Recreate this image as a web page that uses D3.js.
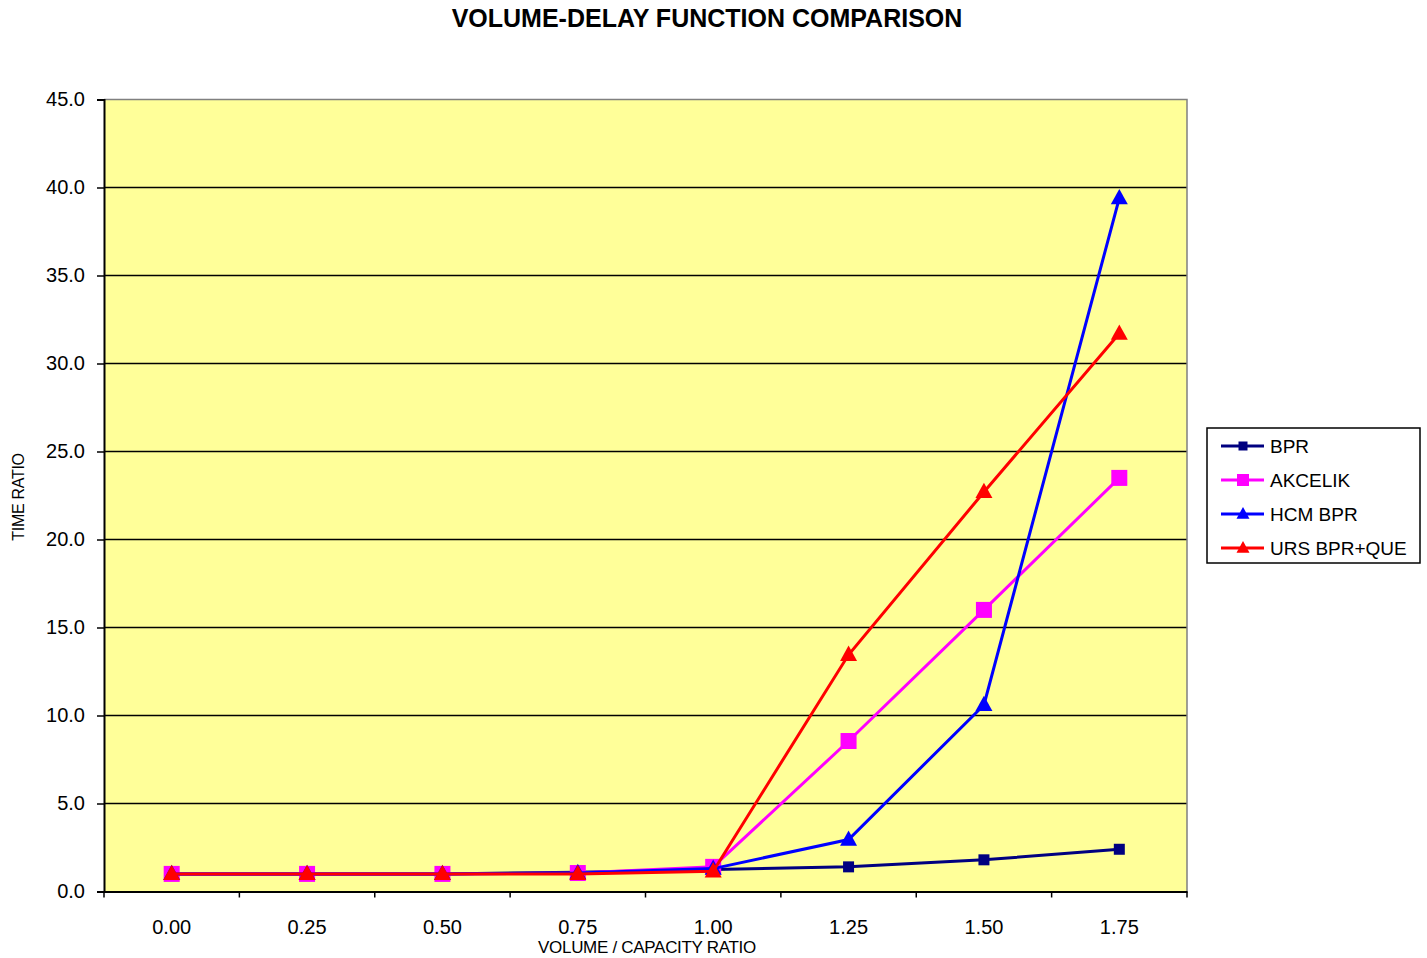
<!DOCTYPE html>
<html>
<head>
<meta charset="utf-8">
<script src="https://cdn.jsdelivr.net/npm/d3@7"></script>
<style>
  html, body { margin: 0; padding: 0; background: #fff; }
  svg { display: block; font-family: "Liberation Sans", Arial, sans-serif; }
</style>
</head>
<body>
<svg id="chart" width="1427" height="958"></svg>
<script>
// Volume/capacity ratio categories
const categories = ["0.00", "0.25", "0.50", "0.75", "1.00", "1.25", "1.50", "1.75"];

// Time ratio per volume-delay function
const bprValues     = [1.0, 1.0, 1.0, 1.1, 1.25, 1.4, 1.8, 2.4];
const akcelikValues = [1.0, 1.0, 1.0, 1.05, 1.4, 8.55, 16.0, 23.5];
const hcmBprValues  = [1.0, 1.0, 1.0, 1.05, 1.3, 2.95, 10.6, 39.4];
const ursValues     = [1.0, 1.0, 1.0, 1.0, 1.15, 13.45, 22.7, 31.7];

const yTicks = [0, 5, 10, 15, 20, 25, 30, 35, 40, 45];

const series = [
  { name: "BPR",          values: bprValues,     color: "#000080", marker: "square",   size: 11 },
  { name: "AKCELIK",      values: akcelikValues, color: "#FF00FF", marker: "square",   size: 16 },
  { name: "HCM BPR",      values: hcmBprValues,  color: "#0000FF", marker: "triangle", size: 17 },
  { name: "URS BPR+QUE",  values: ursValues,     color: "#FF0000", marker: "triangle", size: 17 }
];

const svg = d3.select("#chart");
const plot = { left: 104, top: 99.5, right: 1187, bottom: 891.5 };

const x = d3.scaleBand().domain(categories).range([plot.left, plot.right]);
const y = d3.scaleLinear().domain([0, 45]).range([plot.bottom, plot.top]);

// Plot background
svg.append("rect")
  .attr("x", plot.left).attr("y", plot.top)
  .attr("width", plot.right - plot.left).attr("height", plot.bottom - plot.top)
  .attr("fill", "#FFFF99");

// Horizontal gridlines
svg.append("g")
  .selectAll("line")
  .data(yTicks.filter(d => d > 0 && d < 45))
  .join("line")
  .attr("x1", plot.left).attr("x2", plot.right)
  .attr("y1", d => y(d)).attr("y2", d => y(d))
  .attr("stroke", "#000").attr("stroke-width", 1.5);

// Top and right frame
svg.append("path")
  .attr("d", `M${plot.left},${plot.top}H${plot.right}V${plot.bottom}`)
  .attr("fill", "none").attr("stroke", "#808080").attr("stroke-width", 1.5);

// Y axis
const yAxis = d3.axisLeft(y).tickValues(yTicks).tickFormat(d3.format(".1f")).tickSize(7).tickPadding(12);
const gy = svg.append("g").attr("transform", `translate(${plot.left},0)`).call(yAxis);
gy.select(".domain").attr("stroke", "#000").attr("stroke-width", 2);
gy.selectAll(".tick line").attr("stroke", "#000").attr("stroke-width", 1.5);
gy.selectAll(".tick text").attr("font-size", 20).attr("fill", "#000")
  .attr("font-family", "Liberation Sans, Arial, sans-serif");

// X axis: labels centred in bands, ticks on band boundaries
const xAxis = d3.axisBottom(x).tickSize(0).tickPadding(28);
const gx = svg.append("g").attr("transform", `translate(0,${plot.bottom})`).call(xAxis);
gx.select(".domain").attr("stroke", "#000").attr("stroke-width", 2);
gx.selectAll(".tick text").attr("font-size", 20).attr("fill", "#000")
  .attr("font-family", "Liberation Sans, Arial, sans-serif");
const boundaries = categories.map(c => x(c)).concat([x(categories[categories.length - 1]) + x.bandwidth()]);
svg.append("g")
  .selectAll("line")
  .data(boundaries)
  .join("line")
  .attr("x1", d => d).attr("x2", d => d)
  .attr("y1", plot.bottom).attr("y2", plot.bottom + 6)
  .attr("stroke", "#000").attr("stroke-width", 1.5);

const cx = c => x(c) + x.bandwidth() / 2;

const line = d3.line()
  .x((d, i) => cx(categories[i]))
  .y(d => y(d));

function drawMarker(g, type, size, color, px, py) {
  if (type === "square") {
    g.append("rect")
      .attr("x", px - size / 2).attr("y", py - size / 2)
      .attr("width", size).attr("height", size)
      .attr("fill", color);
  } else {
    const h = size * 0.9;
    g.append("path")
      .attr("d", `M${px},${py - h * 0.6}L${px + size / 2},${py + h * 0.4}L${px - size / 2},${py + h * 0.4}Z`)
      .attr("fill", color);
  }
}

// Series lines and markers
series.forEach(s => {
  const g = svg.append("g");
  g.append("path")
    .attr("d", line(s.values))
    .attr("fill", "none")
    .attr("stroke", s.color)
    .attr("stroke-width", 3);
  s.values.forEach((v, i) => drawMarker(g, s.marker, s.size, s.color, cx(categories[i]), y(v)));
});

// Title
svg.append("text")
  .attr("x", 707).attr("y", 27)
  .attr("text-anchor", "middle")
  .attr("font-size", 25).attr("font-weight", "bold")
  .text("VOLUME-DELAY FUNCTION COMPARISON");

// Axis titles
svg.append("text")
  .attr("x", 647).attr("y", 953)
  .attr("text-anchor", "middle")
  .attr("font-size", 17)
  .attr("letter-spacing", -0.3)
  .text("VOLUME / CAPACITY RATIO");

svg.append("text")
  .attr("transform", "translate(24,497) rotate(-90)")
  .attr("text-anchor", "middle")
  .attr("font-size", 16)
  .attr("letter-spacing", -0.3)
  .text("TIME RATIO");

// Legend
const legend = svg.append("g");
legend.append("rect")
  .attr("x", 1207).attr("y", 428)
  .attr("width", 213).attr("height", 135)
  .attr("fill", "#fff").attr("stroke", "#000").attr("stroke-width", 1.5);

series.forEach((s, i) => {
  const ly = 446 + i * 34;
  legend.append("line")
    .attr("x1", 1221).attr("x2", 1264)
    .attr("y1", ly).attr("y2", ly)
    .attr("stroke", s.color).attr("stroke-width", 3);
  const msize = s.marker === "square" ? (i === 0 ? 9 : 12) : 13;
  drawMarker(legend, s.marker, msize, s.color, 1243, ly);
  legend.append("text")
    .attr("x", 1270).attr("y", ly + 7)
    .attr("font-size", 19)
    .text(s.name);
});
</script>
</body>
</html>
